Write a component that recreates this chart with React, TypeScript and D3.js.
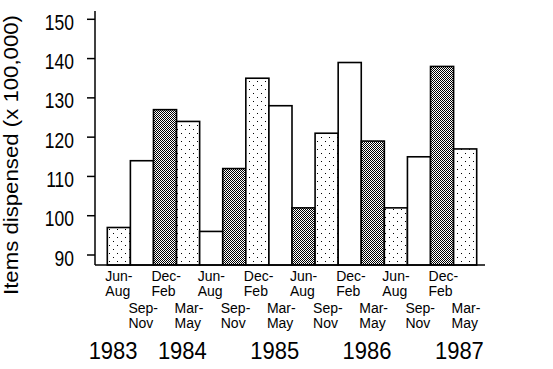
import React, { useRef, useEffect } from "react";
import * as d3 from "d3";

// quarterly periods, Jun 1983 .. May 1987
const periods = [
  "Jun-Aug 1983", "Sep-Nov 1983", "Dec-Feb 1984", "Mar-May 1984",
  "Jun-Aug 1984", "Sep-Nov 1984", "Dec-Feb 1985", "Mar-May 1985",
  "Jun-Aug 1985", "Sep-Nov 1985", "Dec-Feb 1986", "Mar-May 1986",
  "Jun-Aug 1986", "Sep-Nov 1986", "Dec-Feb 1987", "Mar-May 1987",
];
const itemsDispensed = [97, 114, 127, 124, 96, 112, 135, 128, 102, 121, 139, 119, 102, 115, 138, 117];
const yTicks = [90, 100, 110, 120, 130, 140, 150];
const years = ["1983", "1984", "1985", "1986", "1987"];
const yearAt = ["Jun-Aug 1983", "Mar-May 1984", "Mar-May 1985", "Mar-May 1986", "Mar-May 1987"];

const FONT = "'Liberation Sans', Arial, sans-serif";

const App = () => {
  const svgRef = useRef(null);

  useEffect(() => {
    const svg = d3.select(svgRef.current);
    svg.selectAll("*").remove();

    const width = 553;
    const height = 369;
    svg.attr("width", width).attr("height", height);

    const axisX = 95;
    const y = d3.scaleLinear().domain([90, 150]).range([255, 19.3]);
    const yBase = y(87.45);
    const yTop = y(152.1);

    const x = d3.scaleBand().domain(periods).range([107.3, 476.7]).padding(0);

    // fill patterns
    const defs = svg.append("defs");
    const dots = defs
      .append("pattern")
      .attr("id", "dots")
      .attr("patternUnits", "userSpaceOnUse")
      .attr("width", 8)
      .attr("height", 8);
    dots.append("rect").attr("width", 8).attr("height", 8).attr("fill", "#fff");
    dots.append("rect").attr("x", 1).attr("y", 1).attr("width", 1).attr("height", 1).attr("fill", "#000");
    dots.append("rect").attr("x", 5).attr("y", 5).attr("width", 1).attr("height", 1).attr("fill", "#000");

    const dense = defs
      .append("pattern")
      .attr("id", "dense")
      .attr("patternUnits", "userSpaceOnUse")
      .attr("width", 2)
      .attr("height", 2);
    dense.append("rect").attr("width", 2).attr("height", 2).attr("fill", "#fff");
    dense.append("rect").attr("x", 0).attr("y", 0).attr("width", 1).attr("height", 1).attr("fill", "#000");
    dense.append("rect").attr("x", 1).attr("y", 1).attr("width", 1).attr("height", 1).attr("fill", "#000");
    defs.selectAll("rect").attr("shape-rendering", "crispEdges");

    const fillOrder = ["url(#dots)", "#fff", "url(#dense)"];

    // bars
    svg
      .append("g")
      .selectAll("rect")
      .data(periods)
      .enter()
      .append("rect")
      .attr("x", (d) => x(d))
      .attr("y", (d, i) => y(itemsDispensed[i]))
      .attr("width", x.bandwidth())
      .attr("height", (d, i) => yBase - y(itemsDispensed[i]))
      .attr("fill", (d, i) => fillOrder[i % 3])
      .attr("stroke", "#000")
      .attr("stroke-width", 1.6);

    // axes
    svg
      .append("line")
      .attr("x1", axisX)
      .attr("x2", axisX)
      .attr("y1", yTop)
      .attr("y2", yBase)
      .attr("stroke", "#000")
      .attr("stroke-width", 1.5);
    svg
      .append("line")
      .attr("x1", axisX)
      .attr("x2", 485)
      .attr("y1", yBase)
      .attr("y2", yBase)
      .attr("stroke", "#000")
      .attr("stroke-width", 1.5);

    const ticks = svg.append("g");
    yTicks.forEach((t) => {
      ticks
        .append("line")
        .attr("x1", axisX - 8)
        .attr("x2", axisX)
        .attr("y1", y(t))
        .attr("y2", y(t))
        .attr("stroke", "#000")
        .attr("stroke-width", 1.5);
      ticks
        .append("text")
        .attr("transform", `translate(74,${y(t) + 10.5}) scale(0.92,1.12)`)
        .attr("text-anchor", "end")
        .style("font-family", FONT)
        .style("font-size", "19px")
        .text(t);
    });

    // season labels, two rows, two lines each
    const labels = svg.append("g").style("font-family", FONT).style("font-size", "14px");
    periods.forEach((p, i) => {
      const [a, b] = p.split(" ")[0].split("-");
      const top = i % 2 === 0 ? 281 : 313;
      const lx = x(p) - 2;
      const t = labels.append("text").attr("x", lx).attr("y", top);
      t.append("tspan").attr("x", lx).text(a + "-");
      t.append("tspan").attr("x", lx).attr("dy", 14.5).text(b);
    });

    // years
    years.forEach((yr, i) => {
      svg
        .append("text")
        .attr("transform", `translate(${x(yearAt[i]) + x.bandwidth() * 0.25},359) scale(1,1.08)`)
        .attr("text-anchor", "middle")
        .style("font-family", FONT)
        .style("font-size", "22px")
        .text(yr);
    });

    // y title
    svg
      .append("text")
      .attr("transform", "translate(18,155) rotate(-90)")
      .attr("text-anchor", "middle")
      .attr("textLength", 280)
      .attr("lengthAdjust", "spacingAndGlyphs")
      .style("font-family", FONT)
      .style("font-size", "20px")
      .text("Items dispensed (x 100,000)");
  }, []);

  return (
    <svg
      ref={svgRef}
      style={{ position: "absolute", left: 0, top: 0, display: "block", background: "#fff" }}
    />
  );
};

export default App;
